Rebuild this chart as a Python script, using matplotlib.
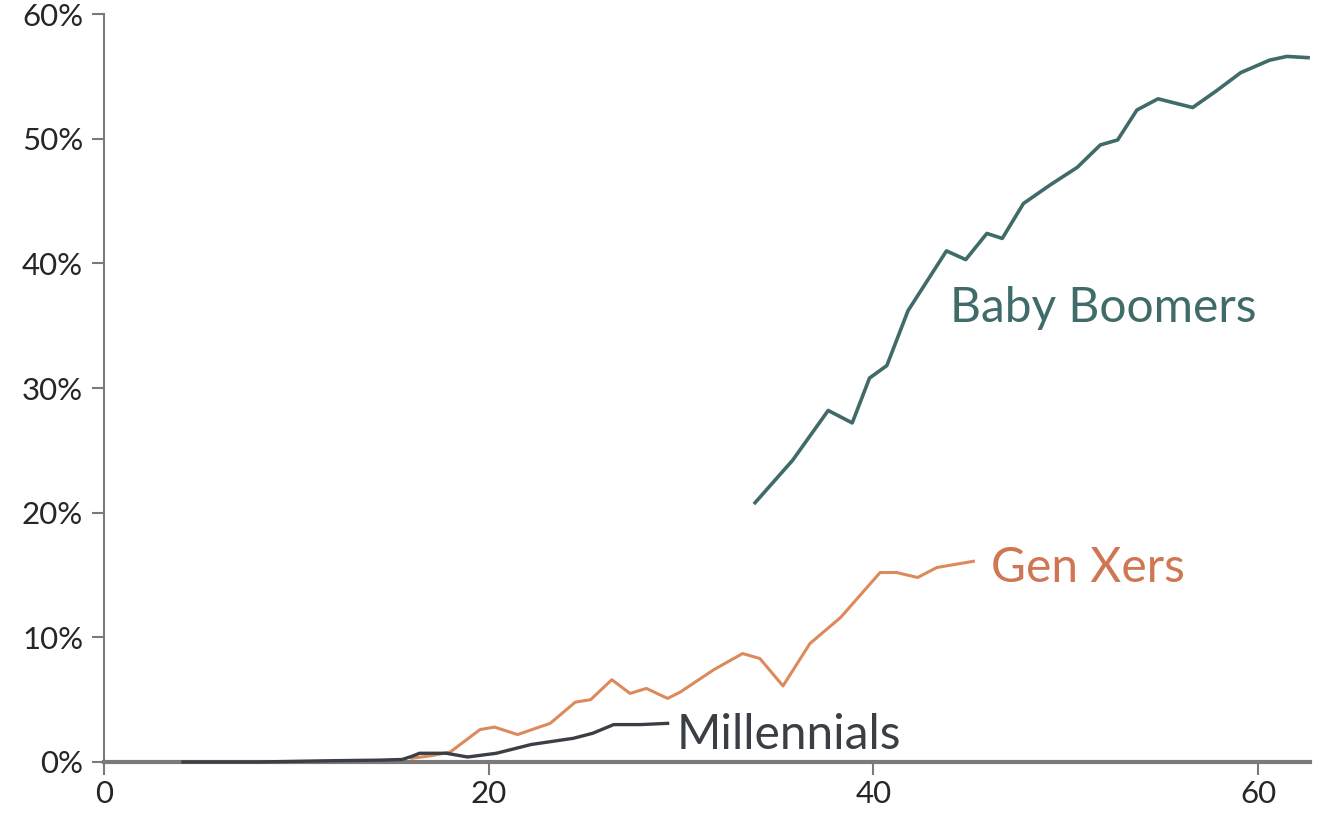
import matplotlib
matplotlib.use("Agg")
import matplotlib.pyplot as plt
from matplotlib.ticker import FuncFormatter

plt.rcParams["font.family"] = ["Lato", "DejaVu Sans"]

# share of each generation by age
boomer_age = [33.85, 35.8, 37.65, 38.9, 39.8, 40.7, 41.8, 43.8, 44.8, 45.9, 46.7, 47.8,
              49.2, 50.6, 51.8, 52.7, 53.7, 54.8, 56.6, 57.8, 59.1, 60.6, 61.5, 62.6]
boomer_pct = [20.8, 24.2, 28.2, 27.2, 30.8, 31.8, 36.2, 41.0, 40.3, 42.4, 42.0, 44.8,
              46.3, 47.7, 49.5, 49.9, 52.3, 53.2, 52.5, 53.8, 55.3, 56.3, 56.6, 56.5]

genx_age = [16.0, 17.0, 18.0, 19.55, 20.3, 21.5, 23.2, 24.5, 25.3, 26.4, 27.35, 28.2,
            29.3, 29.95, 31.7, 33.2, 34.1, 35.3, 36.7, 38.3, 40.35, 41.2, 42.3, 43.3, 45.2]
genx_pct = [0.3, 0.5, 0.8, 2.6, 2.8, 2.2, 3.1, 4.8, 5.0, 6.6, 5.5, 5.9,
            5.1, 5.6, 7.4, 8.7, 8.3, 6.1, 9.5, 11.6, 15.2, 15.2, 14.8, 15.6, 16.1]

mill_age = [4.1, 8.0, 11.75, 14.35, 15.5, 16.0, 16.4, 17.8, 18.9, 20.4, 22.2, 24.4, 25.4,
            26.5, 27.9, 29.3]
mill_pct = [0.0, 0.0, 0.1, 0.15, 0.2, 0.45, 0.7, 0.7, 0.4, 0.7, 1.4, 1.9, 2.3,
            3.0, 3.0, 3.1]

x_ticks = [0, 20, 40, 60]
y_ticks = [0, 10, 20, 30, 40, 50, 60]

boomer_col = "#3f6b68"
genx_col = "#dc8a5c"
mill_col = "#3a3f45"
axis_col = "#7a7a7a"

fig = plt.figure(figsize=(13.37, 8.26), dpi=100)
ax = fig.add_axes([0.0778, 0.0775, 0.902, 0.9055])

ax.plot(boomer_age, boomer_pct, color=boomer_col, lw=2.6, solid_joinstyle="round", zorder=3)
ax.plot(genx_age, genx_pct, color=genx_col, lw=2.2, solid_joinstyle="round", zorder=3,
        clip_on=False)
ax.plot(mill_age, mill_pct, color=mill_col, lw=2.4, solid_joinstyle="round", zorder=3,
        clip_on=False)

ax.text(44.0, 36.4, "Baby Boomers", color=boomer_col, fontsize=34.5, va="center", ha="left")
ax.text(46.1, 15.6, "Gen Xers", color="#cf7652", fontsize=34.5, va="center", ha="left")
ax.text(29.75, 2.2, "Millennials", color=mill_col, fontsize=34.5, va="center", ha="left")

ax.set_xlim(0, 62.7)
ax.set_ylim(0, 60)
ax.set_xticks(x_ticks)
ax.set_yticks(y_ticks)
ax.yaxis.set_major_formatter(FuncFormatter(lambda v, p: f"{int(v)}%"))

for s in ["top", "right"]:
    ax.spines[s].set_visible(False)
ax.spines["left"].set_color(axis_col)
ax.spines["left"].set_linewidth(1.5)
ax.spines["bottom"].set_color(axis_col)
ax.spines["bottom"].set_linewidth(3)
ax.tick_params(axis="both", colors=axis_col, length=9, width=1.5, labelsize=22.5,
               labelcolor="#262626")
ax.tick_params(axis="y", pad=6)
ax.tick_params(axis="x", pad=4)

fig.savefig("out.png", dpi=100)
